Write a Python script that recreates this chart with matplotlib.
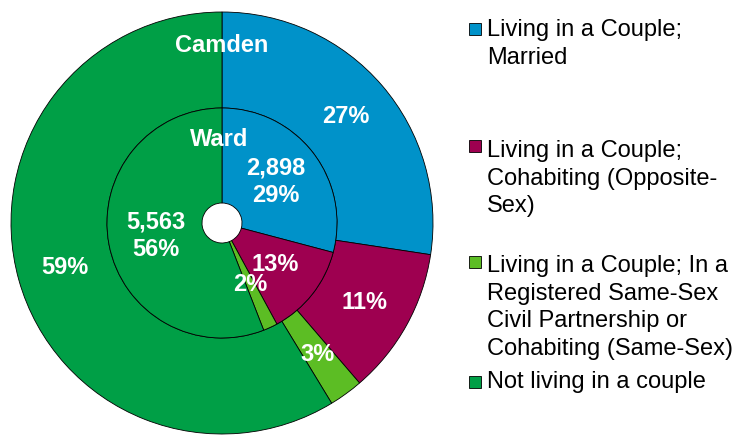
import matplotlib.pyplot as plt
from matplotlib.patches import Rectangle

# data
categories = ['Living in a Couple;\nMarried',
              'Living in a Couple;\nCohabiting (Opposite-\nSex)',
              'Living in a Couple; In a\nRegistered Same-Sex\nCivil Partnership or\nCohabiting (Same-Sex)',
              'Not living in a couple']
ward_counts = [2898, 1290, 200, 5563]
camden_pct = [27.4, 11.3, 2.6, 58.7]
colours = ['#0092C9', '#9E0050', '#5CBD24', '#009F46']

plt.rcParams['font.family'] = ['Liberation Sans', 'DejaVu Sans']

fig = plt.figure(figsize=(7.39, 4.38), dpi=100)
ax = fig.add_axes([0, 0, 1, 1])

cx, cy = 222, 438 - 223
R_out, R_in, R_hole = 211, 115, 20
edge = dict(edgecolor='black', linewidth=0.6)
txt = dict(color='white', fontsize=17, fontweight='bold')

w1, t1, a1 = ax.pie(camden_pct, radius=R_out, center=(cx, cy), colors=colours,
                    startangle=90, counterclock=False, autopct='%1.0f%%',
                    pctdistance=0.773, textprops=txt,
                    wedgeprops=dict(width=R_out - R_in, **edge))
w2, t2, a2 = ax.pie(ward_counts, radius=R_in, center=(cx, cy), colors=colours,
                    startangle=90, counterclock=False, autopct='%1.0f%%',
                    pctdistance=0.587, textprops=txt,
                    wedgeprops=dict(width=R_in - R_hole, **edge))
# first and last ward slices also show the count
for i in (0, 3):
    a2[i].set_text(f"{ward_counts[i]:,}\n{a2[i].get_text()}")
    a2[i].set_linespacing(1.25)

ax.text(cx, 438 - 45, 'Camden', ha='center', va='center', **txt)
ax.text(cx - 3, 438 - 139, 'Ward', ha='center', va='center', **txt)

# legend
sq_y = [29, 146, 262, 382]
top_y = [19, 140, 255, 371]
for lab, col, sy, ty in zip(categories, colours, sq_y, top_y):
    ax.add_patch(Rectangle((469, 438 - sy - 6), 12, 12, facecolor=col,
                           edgecolor='black', linewidth=0.6))
    ax.text(487, 438 - ty, lab, ha='left', va='top', fontsize=17,
            color='black', linespacing=1.33)

ax.set_xlim(0, 739)
ax.set_ylim(0, 438)
ax.set_aspect('auto')
ax.axis('off')

fig.savefig('out.png', dpi=100)
